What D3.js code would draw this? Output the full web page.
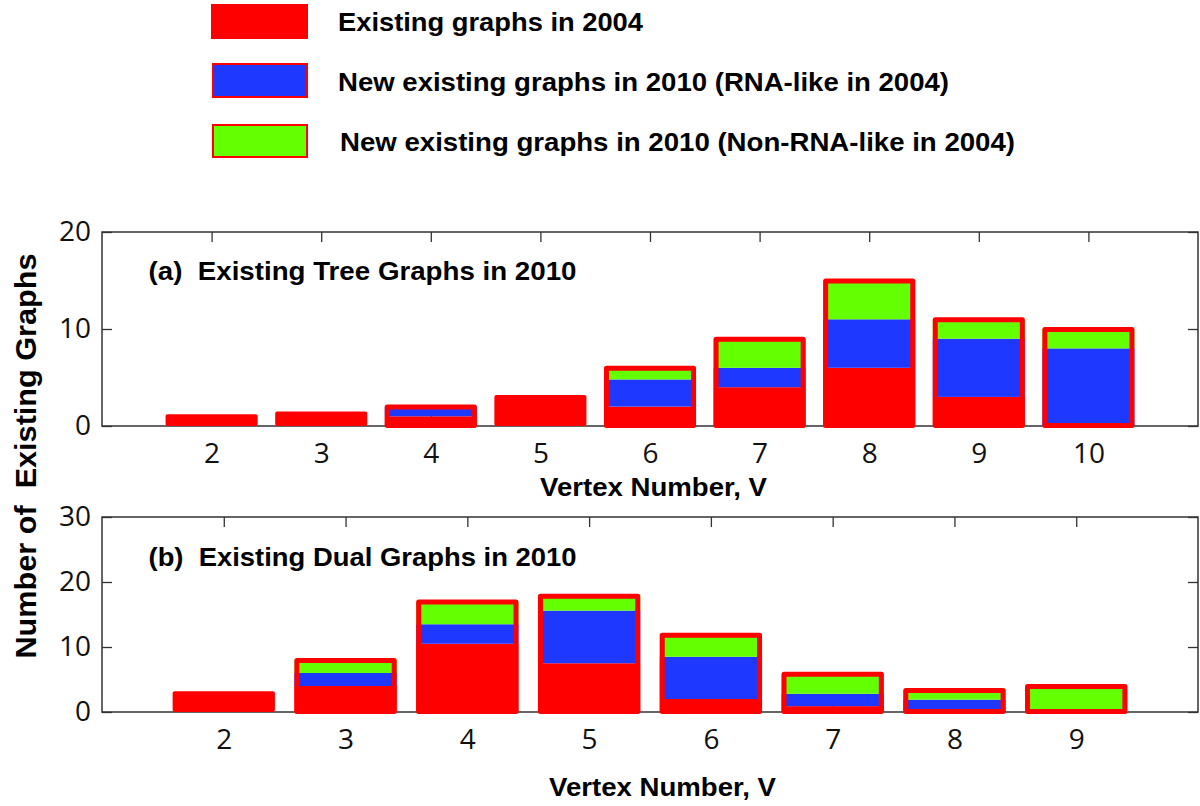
<!DOCTYPE html>
<html>
<head>
<meta charset="utf-8">
<script src="https://cdn.jsdelivr.net/npm/d3@7"></script>
<style>
  html, body { margin: 0; padding: 0; background: #fff; }
  svg { display: block; }
  .bold { font-family: "Liberation Sans", Arial, sans-serif; font-weight: bold; fill: #000; white-space: pre; }
  .tick text { font-family: "Open Sans", "Noto Sans", sans-serif; font-size: 28px; fill: #111; }
  .tick line { stroke: #333; stroke-width: 1.3; }
</style>
</head>
<body>
<svg id="chart" width="1200" height="806"></svg>
<script>
// ---------------- data ----------------
const legendLabels = [
  "Existing graphs in 2004",
  "New existing graphs in 2010 (RNA-like in 2004)",
  "New existing graphs in 2010 (Non-RNA-like in 2004)"
];
const seriesKeys = ["red", "blue", "green"];
const seriesColors = ["#ff0000", "#1f38ff", "#64ff00"];

// Panel (a): Existing Tree Graphs
const catsA  = [2, 3, 4, 5, 6, 7, 8, 9, 10];
const redA   = [1.2, 1.5, 1, 3.2, 2, 4, 6, 3, 0];
const blueA  = [0, 0, 1, 0, 2.8, 2, 5, 6, 8];
const greenA = [0, 0, 0, 0, 1.2, 3, 4, 2, 2];
const yTicksA = [0, 10, 20];
const titleA = "(a)  Existing Tree Graphs in 2010";

// Panel (b): Existing Dual Graphs
const catsB  = [2, 3, 4, 5, 6, 7, 8, 9];
const redB   = [3.2, 4, 10.5, 7.5, 2, 0.9, 0, 0];
const blueB  = [0, 2, 3, 8.1, 6.5, 1.9, 1.9, 0];
const greenB = [0, 2, 3.5, 2.3, 3.4, 3.1, 1.5, 4];
const yTicksB = [0, 10, 20, 30];
const titleB = "(b)  Existing Dual Graphs in 2010";

const xTitle = "Vertex Number, V";
const yTitle = "Number of  Existing Graphs";

// ---------------- drawing ----------------
const svg = d3.select("#chart");
const BAR_W = 0.84;

function drawPanel(cfg) {
  const { cats, red, blue, green, yTicks, title, top, bottom, titleY, xTitleX, xTitleY } = cfg;
  const left = 102, right = 1198;
  const x = d3.scaleLinear().domain([1, cats[cats.length - 1] + 1]).range([left, right]);
  const y = d3.scaleLinear().domain([0, yTicks[yTicks.length - 1]]).range([bottom, top]);
  const g = svg.append("g");

  // frame
  g.append("rect")
    .attr("x", left).attr("y", top)
    .attr("width", right - left).attr("height", bottom - top)
    .attr("fill", "none").attr("stroke", "#333").attr("stroke-width", 1.5);

  // axes (ticks inward)
  const ax = (axis, tx, ty, fmt) => {
    const a = g.append("g").attr("transform", `translate(${tx},${ty})`)
      .call(axis.tickSizeInner(-10).tickSizeOuter(0).tickFormat(fmt));
    a.select(".domain").remove();
    return a;
  };
  ax(d3.axisBottom(x).tickValues(cats).tickPadding(17), 0, bottom, d3.format("d"));
  ax(d3.axisTop(x).tickValues(cats), 0, top, () => "");
  ax(d3.axisLeft(y).tickValues(yTicks).tickPadding(11), left, 0, d3.format("d"));
  ax(d3.axisRight(y).tickValues(yTicks), right, 0, () => "");

  // data rows
  const rows = cats.map((c, i) => ({ cat: c, red: red[i], blue: blue[i], green: green[i] }));
  const stacked = d3.stack().keys(seriesKeys)(rows);
  const bw = x(1 + BAR_W) - x(1);

  stacked.forEach((layer, li) => {
    g.append("g").selectAll("rect")
      .data(layer.filter(d => d[1] - d[0] > 0))
      .join("rect")
      .attr("x", d => x(d.data.cat - BAR_W / 2))
      .attr("width", bw)
      .attr("y", d => y(d[1]))
      .attr("height", d => y(d[0]) - y(d[1]))
      .attr("rx", d => (d.data.blue + d.data.green > 0) ? 0 : 2)
      .attr("fill", seriesColors[li]);
  });

  // thick red outline around bars that contain new graphs
  g.append("g").selectAll("rect")
    .data(rows.filter(r => r.blue + r.green > 0))
    .join("rect")
    .attr("x", d => x(d.cat - BAR_W / 2) + 2.5)
    .attr("width", bw - 5)
    .attr("y", d => y(d.red + d.blue + d.green) + 0.5)
    .attr("height", d => (y(0) - 0.5) - (y(d.red + d.blue + d.green) + 0.5))
    .attr("fill", "none")
    .attr("stroke", seriesColors[0])
    .attr("stroke-width", 5)
    .attr("stroke-linejoin", "round");

  // panel title
  g.append("text").attr("class", "bold")
    .attr("x", 148.5).attr("y", titleY)
    .attr("font-size", 26.5)
    .attr("textLength", 428).attr("lengthAdjust", "spacingAndGlyphs")
    .text(title);

  // x axis title
  g.append("text").attr("class", "bold")
    .attr("x", xTitleX).attr("y", xTitleY)
    .attr("font-size", 26.5)
    .attr("textLength", 227).attr("lengthAdjust", "spacingAndGlyphs")
    .text(xTitle);
}

drawPanel({ cats: catsA, red: redA, blue: blueA, green: greenA, yTicks: yTicksA, title: titleA,
  top: 232, bottom: 426, titleY: 280, xTitleX: 540, xTitleY: 496 });
drawPanel({ cats: catsB, red: redB, blue: blueB, green: greenB, yTicks: yTicksB, title: titleB,
  top: 517, bottom: 712, titleY: 566, xTitleX: 549, xTitleY: 796 });

// y axis title
svg.append("text").attr("class", "bold")
  .attr("transform", "translate(36,456) rotate(-90)")
  .attr("text-anchor", "middle")
  .attr("font-size", 29)
  .attr("textLength", 405).attr("lengthAdjust", "spacingAndGlyphs")
  .text(yTitle);

// legend
const legendSw = [
  { x: 211, y: 4, w: 97, h: 35, border: false },
  { x: 213, y: 64, w: 94, h: 33, border: true },
  { x: 213, y: 125, w: 94, h: 32, border: true }
];
const legendText = [
  { x: 338, y: 31, len: 305 },
  { x: 338, y: 91, len: 611 },
  { x: 340, y: 151, len: 675 }
];
const lg = svg.append("g");
lg.selectAll("rect").data(legendSw).join("rect")
  .attr("x", d => d.x).attr("y", d => d.y)
  .attr("width", d => d.w).attr("height", d => d.h)
  .attr("fill", (d, i) => seriesColors[i])
  .attr("stroke", d => d.border ? seriesColors[0] : "none")
  .attr("stroke-width", 2);
lg.selectAll("text").data(legendText).join("text")
  .attr("class", "bold")
  .attr("x", d => d.x).attr("y", d => d.y)
  .attr("font-size", 26.5)
  .attr("textLength", d => d.len).attr("lengthAdjust", "spacingAndGlyphs")
  .text((d, i) => legendLabels[i]);
</script>
</body>
</html>
